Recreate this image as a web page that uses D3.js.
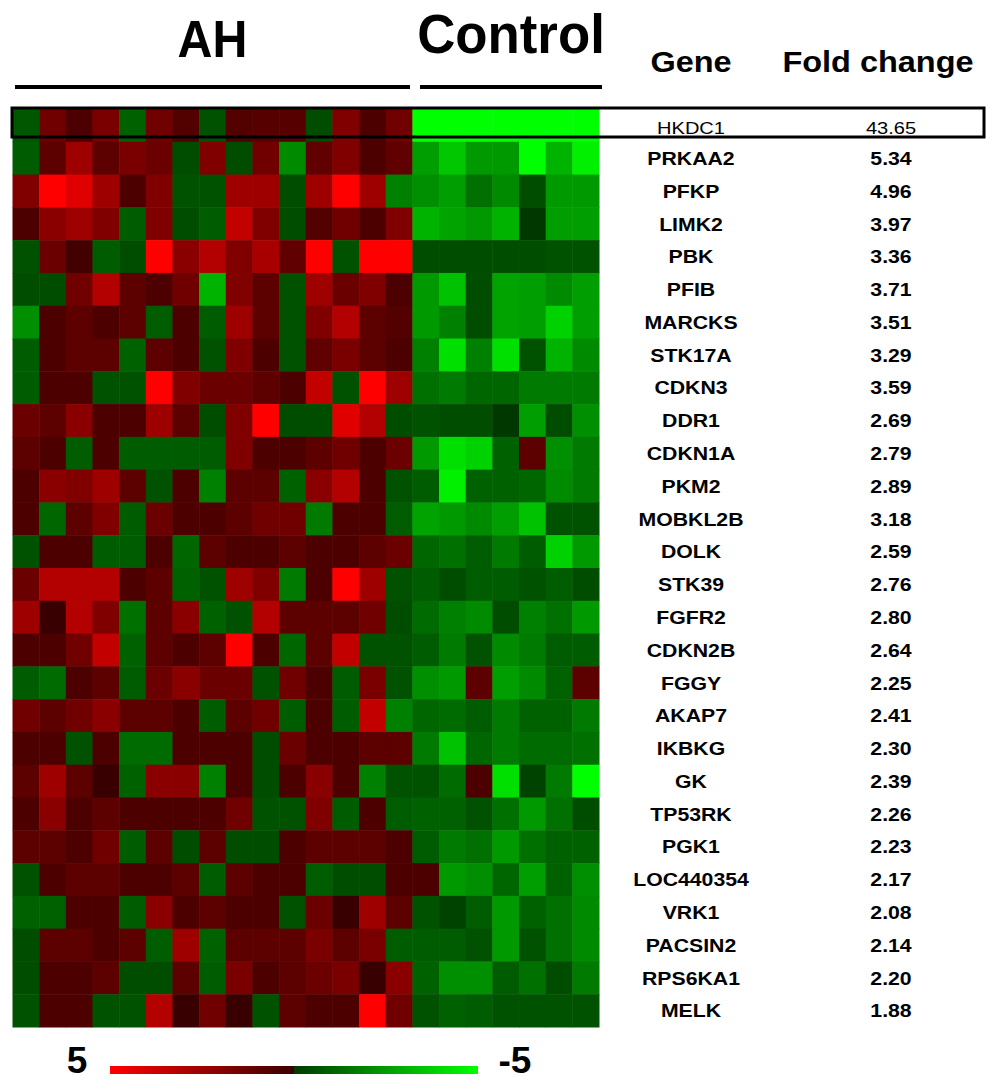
<!DOCTYPE html>
<html>
<head>
<meta charset="utf-8">
<script src="https://cdn.jsdelivr.net/npm/d3@7"></script>
<style>
  body { margin: 0; background: #fff; }
  svg { display: block; }
  text { font-family: "Liberation Sans", Arial, sans-serif; fill: #000; }
</style>
</head>
<body>
<div class="heatmap"></div>
<script>
const genes = ["HKDC1", "PRKAA2", "PFKP", "LIMK2", "PBK", "PFIB", "MARCKS", "STK17A",
    "CDKN3", "DDR1", "CDKN1A", "PKM2", "MOBKL2B", "DOLK", "STK39", "FGFR2", "CDKN2B",
    "FGGY", "AKAP7", "IKBKG", "GK", "TP53RK", "PGK1", "LOC440354", "VRK1", "PACSIN2",
    "RPS6KA1", "MELK"];

const foldChange = ["43.65", "5.34", "4.96", "3.97", "3.36", "3.71", "3.51", "3.29",
    "3.59", "2.69", "2.79", "2.89", "3.18", "2.59", "2.76", "2.80", "2.64", "2.25",
    "2.41", "2.30", "2.39", "2.26", "2.23", "2.17", "2.08", "2.14", "2.20", "1.88"];

// expression per gene, 15 AH samples
const ahValues = [
    [-1.7, 2.2, 1.5, 2.4, -1.9, 2.2, 1.6, -1.6, 1.6, 1.7, 1.7, -1.5, 2.5, 1.5, 2.2],
    [-1.8, 1.8, 3.1, 1.8, 2.4, 2.1, -1.5, 2.5, -1.5, 2.2, -2.7, 1.9, 2.5, 1.5, 1.9],
    [2.5, 5, 4.4, 3.1, 1.5, 2.5, -1.6, -1.6, 3.1, 3.1, -1.5, 3.1, 5, 3.1, -2.5],
    [1.5, 2.7, 3.1, 2.5, -1.8, 2.5, -1.5, -1.8, 3.8, 2.5, -1.5, 1.6, 2.2, 1.5, 2.5],
    [-1.6, 2.1, 1.3, -1.8, -1.5, 5, 2.7, 3.5, 2.5, 3.3, 1.9, 5, -1.6, 5, 5],
    [-1.5, -1.5, 2.2, 3.5, 1.8, 1.5, 2.2, -3.5, 2.5, 1.8, -1.6, 3.1, 2.1, 2.5, 1.5],
    [-2.8, 1.5, 1.8, 1.5, 1.8, -1.8, 1.5, -1.8, 3.1, 1.8, -1.6, 2.5, 3.5, 1.8, 1.6],
    [-1.8, 1.5, 1.8, 1.8, -1.9, 1.8, 1.5, -1.6, 2.5, 1.5, -1.6, 1.9, 2.4, 1.8, 1.5],
    [-1.8, 1.5, 1.5, -1.6, -1.6, 5, 2.5, 2.1, 2.1, 1.8, 1.5, 3.8, -1.6, 5, 3.1],
    [2.1, 1.8, 2.7, 1.5, 1.5, 3.1, 1.8, -1.5, 2.5, 5, -1.5, -1.5, 4.4, 3.5, -1.5],
    [1.8, 1.5, -1.8, 1.5, -1.8, -1.8, -1.8, -1.8, 2.5, 1.5, 1.5, 1.8, 2.2, 1.5, 2.1],
    [1.5, 2.7, 2.5, 3.1, 1.8, -1.6, 1.5, -2.5, 1.8, 1.8, -1.9, 2.7, 3.5, 1.5, -1.6],
    [1.5, -2.0, 1.8, 2.5, -1.8, 2.1, 1.5, 1.5, 1.8, 2.2, 2.2, -2.4, 1.5, 1.5, -1.8],
    [-1.6, 1.5, 1.5, -1.8, -1.8, 1.5, -2.0, 1.8, 1.5, 1.5, 1.8, 1.5, 1.5, 1.8, 2.1],
    [2.1, 3.5, 3.5, 3.5, 1.5, 1.8, -1.9, -1.6, 3.1, 2.5, -2.4, 1.5, 5, 3.1, -1.6],
    [3.1, 1.1, 3.5, 2.5, -2.2, 1.8, 2.7, -1.9, -1.6, 3.5, 1.8, 1.8, 1.8, 2.2, -1.5],
    [1.5, 1.5, 2.2, 3.8, -1.9, 1.8, 1.5, 1.8, 5, 1.5, -2.0, 1.8, 3.8, -1.6, -1.6],
    [-1.8, -2.1, 1.5, 1.8, -1.8, 2.1, 2.7, 2.1, 2.1, -1.6, 2.2, 1.5, -1.8, 2.4, -1.6],
    [2.2, 1.8, 2.2, 2.7, 1.8, 1.8, 1.5, -1.8, 1.8, 2.2, -1.8, 1.5, -1.8, 3.8, -2.5],
    [1.5, 1.5, -1.6, 1.5, -2.1, -2.1, 1.5, 1.5, 1.5, -1.5, 2.1, 1.5, 1.5, 1.8, 1.8],
    [1.8, 3.1, 1.8, 1.1, -1.9, 2.7, 2.7, -2.5, 1.5, -1.5, 1.5, 2.7, 1.5, -2.5, -1.6],
    [1.5, 2.7, 1.5, 1.8, 1.5, 1.5, 1.5, 1.5, 2.2, -1.6, -1.6, 2.5, -1.8, 1.5, -1.8],
    [1.8, 1.8, 1.5, 2.2, -1.8, 1.8, -1.5, 1.8, -1.5, -1.5, 1.5, 1.8, 1.8, 1.8, 1.5],
    [-1.6, 1.5, 1.8, 1.8, 1.5, 1.5, 1.8, -1.8, 1.8, 1.5, 1.5, -1.8, -1.5, -1.5, 1.5],
    [-1.9, -1.9, 1.5, 1.5, -1.8, 2.7, 1.5, 1.8, 1.5, 1.5, -1.6, 2.1, 1.1, 3.1, 1.8],
    [-1.5, 1.8, 1.8, 1.5, 1.8, -1.8, 3.1, -1.9, 1.8, 1.8, 1.8, 2.4, 1.8, 2.4, -1.8],
    [-1.5, 1.5, 1.5, 1.8, -1.5, -1.5, 1.8, -1.8, 2.4, 1.5, 1.8, 2.1, 2.4, 1.1, 2.7],
    [-1.6, 1.5, 1.5, -1.6, -1.6, 3.5, 1.1, 2.2, 1.1, -1.6, 1.8, 1.5, 1.5, 5, 2.2]
];

// expression per gene, 7 control samples
const ctrlValues = [
    [-5, -5, -5, -5, -5, -5, -5],
    [-3.1, -3.9, -3.0, -3.0, -5, -3.5, -4.7],
    [-2.8, -3.1, -2.2, -2.7, -1.5, -3.0, -3.0],
    [-3.5, -3.2, -3.0, -3.5, -1.1, -3.1, -3.1],
    [-1.5, -1.5, -1.5, -1.5, -1.5, -1.6, -1.6],
    [-3.0, -3.8, -1.5, -3.2, -3.1, -2.7, -3.1],
    [-3.0, -2.5, -1.5, -3.2, -3.1, -4.1, -3.1],
    [-2.5, -4.4, -2.5, -4.4, -1.6, -3.5, -2.7],
    [-2.2, -2.4, -2.0, -2.0, -2.4, -2.4, -2.4],
    [-1.6, -1.5, -1.5, -1.1, -3.1, -1.5, -2.8],
    [-3.0, -4.4, -4.1, -1.9, 1.8, -2.8, -2.4],
    [-1.8, -4.7, -1.9, -1.9, -2.0, -2.7, -2.4],
    [-3.2, -3.0, -2.7, -3.1, -3.8, -1.6, -1.6],
    [-2.0, -2.2, -1.8, -2.4, -1.8, -4.1, -3.0],
    [-1.8, -1.5, -1.8, -1.8, -1.6, -1.8, -1.5],
    [-2.1, -2.5, -2.7, -1.5, -2.5, -2.2, -3.0],
    [-1.8, -2.4, -1.6, -2.7, -2.4, -1.8, -1.8],
    [-2.8, -3.0, 1.8, -3.1, -2.7, -1.9, 1.8],
    [-2.0, -2.1, -1.8, -2.4, -1.9, -1.9, -2.4],
    [-2.4, -3.8, -2.0, -2.4, -2.1, -2.1, -2.2],
    [-1.6, -2.1, 1.5, -4.4, -1.3, -2.4, -5],
    [-1.9, -1.9, -1.6, -2.2, -3.0, -2.2, -1.5],
    [-1.8, -2.4, -2.2, -3.0, -2.2, -1.9, -1.9],
    [1.5, -3.0, -2.8, -2.0, -3.1, -1.9, -2.8],
    [-1.6, -1.3, -1.8, -3.0, -1.9, -2.2, -2.7],
    [-1.8, -1.8, -1.6, -3.0, -1.6, -2.2, -2.7],
    [-1.9, -2.8, -2.8, -1.8, -2.2, -1.5, -2.4],
    [-1.6, -1.9, -1.8, -1.6, -1.6, -1.6, -1.6]
];

const groups = ["AH", "Control"];
const legendTicks = [5, -5];

const draw = () => {
    const width = 1000, height = 1086;
    const svg = d3.select(".heatmap")
        .append("svg")
        .attr("width", width)
        .attr("height", height);

    const nAH = ahValues[0].length, nCtrl = ctrlValues[0].length;
    const samples = d3.range(nAH + nCtrl);

    const x = d3.scaleBand().domain(samples).range([12.5, 599]);
    const y = d3.scaleBand().domain(genes).range([109, 1027]);
    const color = d3.scaleLinear()
        .domain([-5, 0, 5])
        .range(["#00ff00", "#000000", "#ff0000"])
        .clamp(true);

    const cells = [];
    genes.forEach((g, i) => {
        ahValues[i].concat(ctrlValues[i]).forEach((v, j) => {
            cells.push({ gene: g, sample: j, value: v });
        });
    });

    svg.append("g")
        .selectAll("rect")
        .data(cells)
        .enter()
        .append("rect")
        .attr("x", d => x(d.sample))
        .attr("y", d => y(d.gene))
        .attr("width", x.bandwidth() + 0.5)
        .attr("height", y.bandwidth() + 0.5)
        .attr("fill", d => color(d.value));

    // group headers with bars
    const groupSpan = [
        { name: groups[0], x0: 15, x1: 410, base: 57, size: 52, sx: 0.93 },
        { name: groups[1], x0: 420, x1: 602, base: 53, size: 55, sx: 0.96 }
    ];
    groupSpan.forEach(gr => {
        svg.append("line")
            .attr("x1", gr.x0).attr("x2", gr.x1)
            .attr("y1", 87).attr("y2", 87)
            .attr("stroke", "#000")
            .attr("stroke-width", 4);
        svg.append("text")
            .attr("transform", "translate(" + ((gr.x0 + gr.x1) / 2) + "," + gr.base + ") scale(" + gr.sx + ",1)")
            .attr("text-anchor", "middle")
            .style("font-size", gr.size + "px")
            .style("font-weight", "bold")
            .text(gr.name);
    });

    const geneX = 691, fcX = 891;

    svg.append("text")
        .attr("transform", "translate(" + geneX + ",72) scale(1.12,1)")
        .attr("text-anchor", "middle")
        .style("font-size", "29px")
        .style("font-weight", "bold")
        .text("Gene");
    svg.append("text")
        .attr("transform", "translate(878,72) scale(1.12,1)")
        .attr("text-anchor", "middle")
        .style("font-size", "29px")
        .style("font-weight", "bold")
        .text("Fold change");

    const rowLabels = genes.map((g, i) => ({ gene: g, fc: foldChange[i], first: i === 0 }));

    svg.append("g")
        .selectAll("text")
        .data(rowLabels)
        .enter()
        .append("text")
        .attr("transform", d => "translate(" + geneX + "," + (y(d.gene) + y.bandwidth() / 2 + (d.first ? 4 : 2)) + ") scale(1.18,1)")
        .attr("text-anchor", "middle")
        .attr("dominant-baseline", "middle")
        .style("font-size", d => d.first ? "17px" : "18px")
        .style("font-weight", d => d.first ? "normal" : "bold")
        .text(d => d.gene);

    svg.append("g")
        .selectAll("text")
        .data(rowLabels)
        .enter()
        .append("text")
        .attr("transform", d => "translate(" + fcX + "," + (y(d.gene) + y.bandwidth() / 2 + (d.first ? 4 : 2)) + ") scale(1.18,1)")
        .attr("text-anchor", "middle")
        .attr("dominant-baseline", "middle")
        .style("font-size", d => d.first ? "17px" : "18px")
        .style("font-weight", d => d.first ? "normal" : "bold")
        .text(d => d.fc);

    // highlight box around the top gene
    svg.append("rect")
        .attr("x", 12)
        .attr("y", y(genes[0]) - 1)
        .attr("width", 972)
        .attr("height", 29)
        .attr("fill", "none")
        .attr("stroke", "#000")
        .attr("stroke-width", 3);

    // colour legend
    const legend = d3.scaleLinear().domain(legendTicks).range([110, 478]);
    const legendColor = d3.scaleLinear()
        .domain([5, 0.01, -0.01, -5])
        .range(["#ff0000", "#3a0000", "#003a00", "#00ff00"]);
    const grad = svg.append("defs").append("linearGradient")
        .attr("id", "lg")
        .attr("x1", "0%").attr("x2", "100%");
    [0, 0.25, 0.499, 0.501, 0.75, 1].forEach(t => {
        grad.append("stop")
            .attr("offset", (t * 100) + "%")
            .attr("stop-color", legendColor(legendTicks[0] + t * (legendTicks[1] - legendTicks[0])));
    });
    svg.append("rect")
        .attr("x", legend(5))
        .attr("y", 1066)
        .attr("width", legend(-5) - legend(5))
        .attr("height", 8)
        .attr("fill", "url(#lg)");

    svg.selectAll(".ltick")
        .data(legendTicks)
        .enter()
        .append("text")
        .attr("class", "ltick")
        .attr("x", d => d > 0 ? legend(d) - 33 : legend(d) + 37)
        .attr("y", 1073)
        .attr("text-anchor", "middle")
        .style("font-size", "37px")
        .style("font-weight", "bold")
        .text(d => d);
};

draw();
</script>
</body>
</html>
